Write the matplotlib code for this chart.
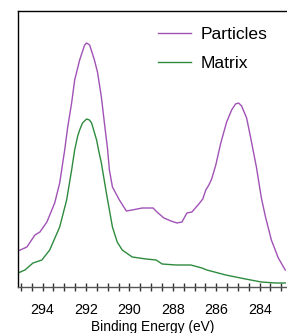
import matplotlib
matplotlib.use("Agg")
import matplotlib.pyplot as plt
from matplotlib.ticker import MultipleLocator, FixedLocator

plt.rcParams["font.family"] = ["Liberation Sans", "DejaVu Sans"]

# binding energy (eV) and intensity (arb. units)
particles_energy = [295.13, 294.72, 294.35, 294.12, 293.80, 293.44, 293.21, 292.98, 292.84,
                    292.66, 292.52, 292.29, 292.06, 291.97, 291.83, 291.61, 291.47, 291.29,
                    291.15, 291.01, 290.92, 290.78, 290.46, 290.14, 289.87, 289.41, 288.91,
                    288.73, 288.41, 288.08, 287.81, 287.58, 287.35, 287.12, 286.80, 286.62,
                    286.48, 286.34, 286.21, 286.02, 285.79, 285.52, 285.29, 285.11, 284.97,
                    284.83, 284.60, 284.42, 284.15, 283.92, 283.73, 283.46, 283.14, 282.82]
particles_counts = [36, 40, 52, 55, 65, 84, 104, 137, 160,
                    184, 207, 227, 242, 244, 242, 227, 215, 190,
                    164, 139, 117, 100, 87, 76, 77, 79, 79,
                    75, 69, 66, 64, 65, 74, 75, 83, 88,
                    97, 102, 108, 122, 144, 165, 177, 183, 184,
                    181, 169, 150, 120, 89, 70, 47, 29, 17]

matrix_energy = [295.13, 294.81, 294.44, 294.03, 293.67, 293.21, 292.89, 292.66, 292.52,
                 292.38, 292.29, 292.16, 291.97, 291.84, 291.74, 291.51, 291.42, 291.29,
                 291.06, 290.78, 290.56, 290.33, 289.87, 289.23, 288.77, 288.49, 287.85,
                 287.17, 286.66, 286.43, 285.56, 284.65, 283.92, 283.28, 282.82]
matrix_counts = [14, 17, 24, 27, 37, 60, 87, 117, 137,
                 151, 157, 164, 168, 167, 164, 147, 137, 124,
                 94, 60, 45, 37, 30, 28, 27, 23, 22,
                 22, 19, 17, 12, 8, 5, 4, 4]

tick_values = [294, 292, 290, 288, 286, 284]

fig = plt.figure(figsize=(2.87, 3.33), dpi=100)
ax = fig.add_axes([18 / 287, 1 - 287 / 333, 1 - 18 / 287, 276 / 333])

ax.plot(particles_energy, particles_counts, color="#a052b5", lw=1.0, label="Particles")
ax.plot(matrix_energy, matrix_counts, color="#2e8b3e", lw=1.0, label="Matrix")

ax.set_xlim(295.13, 282.74)
ax.set_ylim(0, 276)

ax.xaxis.set_major_locator(FixedLocator(tick_values))
ax.xaxis.set_minor_locator(MultipleLocator(0.5))
ax.tick_params(axis="x", which="both", direction="inout", length=6, width=1,
               color="#333333", labelsize=10.3, pad=8.5)
ax.set_yticks([])

ax.spines["right"].set_visible(False)
for s in ["left", "top"]:
    ax.spines[s].set_linewidth(1)
    ax.spines[s].set_color("black")
ax.spines["bottom"].set_linewidth(1)
ax.spines["bottom"].set_color("#555555")

ax.set_xlabel("Binding Energy (eV)", fontsize=9.9, labelpad=2)

ax.legend(loc="upper left", bbox_to_anchor=(158 / 287, 1 - 27 / 333),
          bbox_transform=fig.transFigure, frameon=False, fontsize=12.6,
          handlelength=1.9, handletextpad=0.55, labelspacing=0.8,
          borderaxespad=0, borderpad=0)

fig.savefig("out.png", dpi=100)
